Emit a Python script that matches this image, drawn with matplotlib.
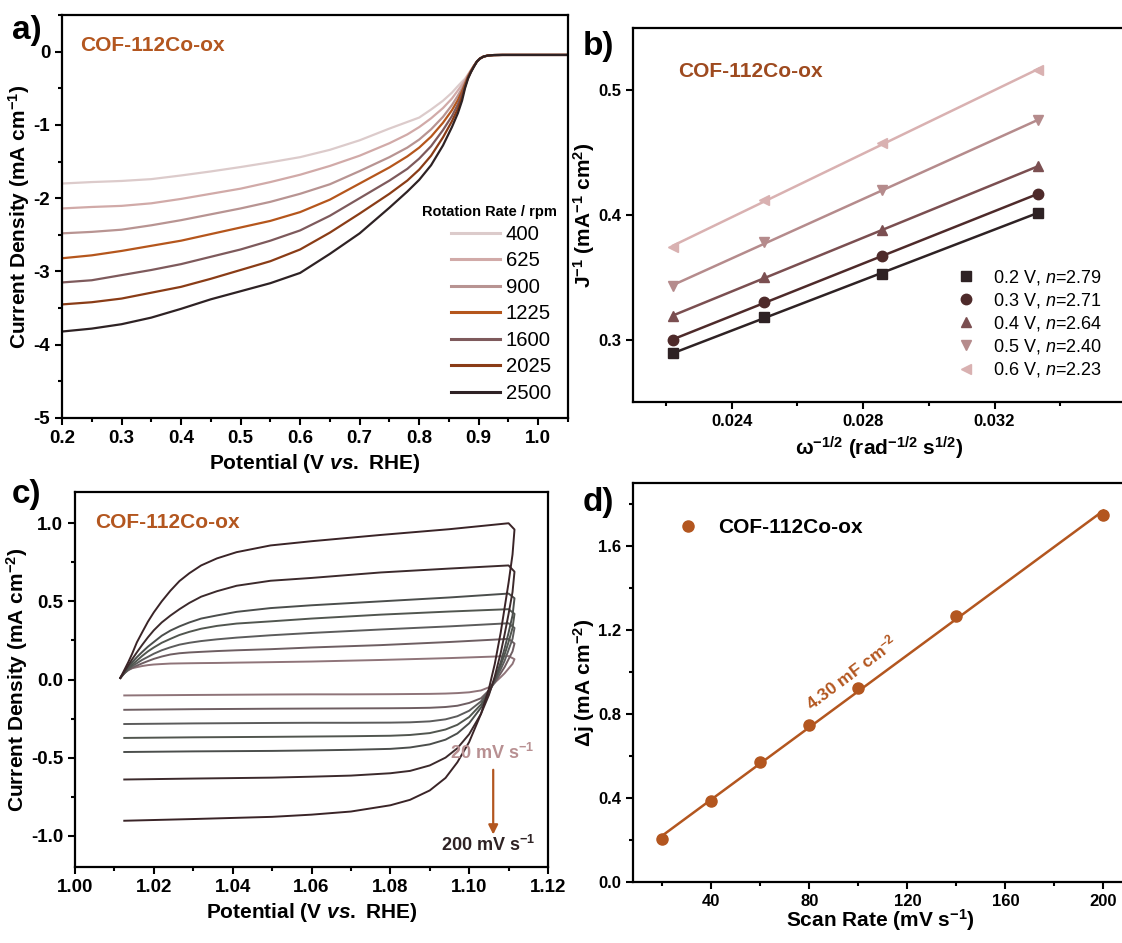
import numpy as np
import matplotlib
matplotlib.use("Agg")
import matplotlib.pyplot as plt
from matplotlib.ticker import MultipleLocator
from matplotlib.lines import Line2D

plt.rcParams["font.family"] = ["Liberation Sans", "DejaVu Sans"]
plt.rcParams["font.weight"] = "bold"
plt.rcParams["mathtext.fontset"] = "custom"
plt.rcParams["mathtext.rm"] = "Liberation Sans:bold"
plt.rcParams["mathtext.bf"] = "Liberation Sans:bold"
plt.rcParams["mathtext.it"] = "Liberation Sans:italic:bold"
plt.rcParams["mathtext.sf"] = "Liberation Sans:style=italic:weight=normal"

BROWN = "#b3561f"
SAMPLE = "COF-112Co-ox"

# ---- (a) LSV curves at different rotation rates ----
rpm = [400, 625, 900, 1225, 1600, 2025, 2500]
rpm_colors = ["#dccbcb", "#d1aaa8", "#b89492", "#b5561c", "#7e5a5c", "#8a3c16", "#2e2224"]
lsv_potential = [0.20, 0.25, 0.30, 0.35, 0.40, 0.45, 0.50, 0.55, 0.60, 0.65, 0.70, 0.75,
                 0.78, 0.80, 0.82, 0.84, 0.855, 0.865, 0.872, 0.877,
                 0.882, 0.887, 0.892, 0.897, 0.902, 0.908, 0.915, 0.925, 0.94, 1.05]
lsv_tail = [-0.135, -0.095, -0.068, -0.054, -0.047, -0.045, -0.045]
lsv_current = {
    400:  [-1.80, -1.78, -1.765, -1.74, -1.69, -1.635, -1.575, -1.51, -1.44, -1.34, -1.21, -1.05,
           -0.96, -0.90, -0.79, -0.67, -0.56, -0.47, -0.41, -0.37, -0.31, -0.25, -0.19],
    625:  [-2.14, -2.12, -2.105, -2.07, -2.01, -1.94, -1.87, -1.78, -1.68, -1.56, -1.42, -1.25,
           -1.13, -1.03, -0.91, -0.77, -0.64, -0.53, -0.45, -0.39, -0.32, -0.255, -0.19],
    900:  [-2.48, -2.46, -2.43, -2.37, -2.30, -2.22, -2.14, -2.05, -1.94, -1.81, -1.63, -1.44,
           -1.31, -1.20, -1.06, -0.89, -0.73, -0.60, -0.50, -0.42, -0.33, -0.26, -0.195],
    1225: [-2.82, -2.78, -2.72, -2.65, -2.58, -2.49, -2.40, -2.31, -2.19, -2.02, -1.80, -1.58,
           -1.43, -1.31, -1.16, -0.97, -0.80, -0.66, -0.54, -0.44, -0.34, -0.265, -0.195],
    1600: [-3.15, -3.12, -3.05, -2.98, -2.90, -2.80, -2.70, -2.58, -2.44, -2.24, -2.00, -1.76,
           -1.60, -1.46, -1.29, -1.07, -0.88, -0.72, -0.58, -0.46, -0.35, -0.27, -0.20],
    2025: [-3.45, -3.42, -3.37, -3.29, -3.21, -3.10, -2.98, -2.86, -2.70, -2.47, -2.21, -1.94,
           -1.76, -1.61, -1.42, -1.17, -0.95, -0.78, -0.62, -0.48, -0.36, -0.275, -0.20],
    2500: [-3.82, -3.78, -3.72, -3.63, -3.51, -3.38, -3.27, -3.16, -3.02, -2.76, -2.48, -2.13,
           -1.91, -1.75, -1.55, -1.28, -1.03, -0.84, -0.67, -0.50, -0.37, -0.28, -0.205],
}

# ---- (b) Koutecky-Levich data ----
kl_rpm = [2025, 1600, 1225, 900]
kl_labels = ["0.2 V, $\\mathsf{n}$=2.79", "0.3 V, $\\mathsf{n}$=2.71", "0.4 V, $\\mathsf{n}$=2.64",
             "0.5 V, $\\mathsf{n}$=2.40", "0.6 V, $\\mathsf{n}$=2.23"]
kl_markers = ["s", "o", "^", "v", "<"]
kl_colors = ["#2e2224", "#4e2a2a", "#7b4f51", "#b58b8c", "#d9b1b1"]
kl_inv_j = [
    [0.289, 0.318, 0.353, 0.402],
    [0.300, 0.330, 0.367, 0.417],
    [0.319, 0.350, 0.388, 0.439],
    [0.343, 0.378, 0.420, 0.476],
    [0.374, 0.412, 0.458, 0.516],
]

# ---- (c) CV curves in the non-faradaic window ----
scan_rates = [20, 40, 60, 80, 100, 140, 200]
cv_colors = ["#8f7479", "#6e5e62", "#5c5c5c", "#51564f", "#4b4e4c", "#3c2a2c", "#3a2427"]
anodic_v = [1.0115, 1.0125, 1.0135, 1.0145, 1.0157, 1.017, 1.0185, 1.020, 1.022, 1.0242,
            1.0265, 1.029, 1.032, 1.036, 1.041, 1.0496, 1.060, 1.0775, 1.095, 1.110]
anodic_j = {
    20:  [0.010, 0.040, 0.060, 0.072, 0.079, 0.086, 0.092, 0.096, 0.099, 0.102,
          0.103, 0.104, 0.105, 0.106, 0.108, 0.111, 0.115, 0.125, 0.137, 0.150],
    40:  [0.010, 0.040, 0.060, 0.075, 0.089, 0.103, 0.118, 0.132, 0.147, 0.160,
          0.168, 0.173, 0.177, 0.182, 0.187, 0.194, 0.205, 0.220, 0.240, 0.260],
    60:  [0.010, 0.040, 0.065, 0.085, 0.104, 0.125, 0.145, 0.165, 0.187, 0.206,
          0.223, 0.235, 0.246, 0.257, 0.268, 0.283, 0.298, 0.320, 0.340, 0.360],
    80:  [0.010, 0.040, 0.070, 0.095, 0.121, 0.150, 0.180, 0.205, 0.235, 0.260,
          0.285, 0.305, 0.325, 0.343, 0.358, 0.372, 0.390, 0.415, 0.435, 0.450],
    100: [0.010, 0.045, 0.080, 0.110, 0.143, 0.175, 0.210, 0.240, 0.280, 0.313,
          0.340, 0.365, 0.390, 0.410, 0.433, 0.457, 0.475, 0.500, 0.525, 0.550],
    140: [0.010, 0.050, 0.090, 0.130, 0.174, 0.220, 0.270, 0.315, 0.365, 0.409,
          0.450, 0.490, 0.530, 0.565, 0.600, 0.632, 0.650, 0.685, 0.710, 0.730],
    200: [0.010, 0.060, 0.110, 0.165, 0.238, 0.300, 0.370, 0.430, 0.500, 0.568,
          0.630, 0.680, 0.730, 0.775, 0.815, 0.858, 0.885, 0.925, 0.962, 1.000],
}
cathodic_v = [1.1115, 1.111, 1.110, 1.109, 1.108, 1.1065, 1.105, 1.103, 1.100, 1.097,
              1.094, 1.090, 1.085, 1.080, 1.070, 1.060, 1.050, 1.030, 1.0125]
cathodic_j = {
    20:  [0.130, 0.100, 0.070, 0.040, 0.015, -0.020, -0.050, -0.070, -0.082, -0.087,
          -0.090, -0.092, -0.093, -0.094, -0.095, -0.095, -0.096, -0.099, -0.102],
    40:  [0.230, 0.180, 0.130, 0.080, 0.040, -0.020, -0.070, -0.120, -0.150, -0.168,
          -0.176, -0.181, -0.183, -0.184, -0.185, -0.186, -0.187, -0.190, -0.194],
    60:  [0.330, 0.260, 0.190, 0.120, 0.065, -0.010, -0.070, -0.140, -0.200, -0.235,
          -0.255, -0.268, -0.274, -0.276, -0.277, -0.277, -0.278, -0.281, -0.285],
    80:  [0.420, 0.330, 0.240, 0.160, 0.090, 0.000, -0.080, -0.160, -0.240, -0.290,
          -0.320, -0.343, -0.355, -0.360, -0.363, -0.365, -0.367, -0.370, -0.374],
    100: [0.520, 0.410, 0.300, 0.200, 0.110, 0.000, -0.090, -0.180, -0.280, -0.345,
          -0.385, -0.415, -0.435, -0.444, -0.450, -0.454, -0.457, -0.460, -0.464],
    140: [0.690, 0.560, 0.420, 0.290, 0.170, 0.020, -0.100, -0.220, -0.350, -0.440,
          -0.500, -0.550, -0.585, -0.600, -0.615, -0.622, -0.628, -0.634, -0.640],
    200: [0.960, 0.800, 0.620, 0.460, 0.300, 0.100, -0.060, -0.220, -0.400, -0.530,
          -0.630, -0.710, -0.770, -0.805, -0.845, -0.865, -0.879, -0.893, -0.904],
}

# ---- (d) double-layer capacitance ----
dl_scan = [20, 40, 60, 80, 100, 140, 200]
dl_delta_j = [0.205, 0.386, 0.570, 0.748, 0.922, 1.266, 1.750]
cdl_label = "4.30 mF cm$^{-2}$"


W, H = 1122, 943
fig = plt.figure(figsize=(W / 100, H / 100), dpi=100)


def axes_px(left, top, right, bottom):
    return fig.add_axes([left / W, 1 - bottom / H, (right - left) / W, (bottom - top) / H])


def style(ax, tick_size=13):
    for s in ax.spines.values():
        s.set_linewidth(1.6)
    ax.tick_params(which="major", direction="out", length=5, width=1.5, labelsize=tick_size)
    ax.tick_params(which="minor", direction="out", length=3, width=1.5)
    for lab in ax.get_xticklabels() + ax.get_yticklabels():
        lab.set_fontweight("bold")


label_kw = dict(fontsize=15, fontweight="bold")

# ---------------- panel a ----------------
ax = axes_px(62, 15, 568, 418)
for r, c in zip(rpm, rpm_colors):
    ax.plot(lsv_potential, lsv_current[r] + lsv_tail, color=c, lw=1.6, label=str(r))
ax.set_xlim(0.2, 1.05)
ax.set_ylim(-5, 0.5)
ax.xaxis.set_minor_locator(MultipleLocator(0.05))
ax.yaxis.set_minor_locator(MultipleLocator(0.5))
ax.set_xticks(np.arange(0.2, 1.01, 0.1))
ax.set_xticklabels([f"{v:.1f}" for v in np.arange(0.2, 1.01, 0.1)])
ax.set_yticks(range(-5, 1))
ax.set_yticklabels([str(v) for v in range(-5, 1)])
style(ax, 13.5)
ax.set_xlabel("Potential (V $vs.$ RHE)", labelpad=4, **label_kw)
ax.set_ylabel("Current Density (mA cm$^{-1}$)", labelpad=1, **label_kw)
ax.text(0.036, 0.925, SAMPLE, transform=ax.transAxes, color=BROWN, fontsize=15,
        fontweight="bold", va="center")
ax.text(0.711, 0.511, "Rotation Rate / rpm", transform=ax.transAxes, fontsize=10.5,
        fontweight="bold", va="center", ha="left")
leg = ax.legend(loc="upper left", bbox_to_anchor=(0.769, 0.479), frameon=False,
                handlelength=2.4, handletextpad=0.3, labelspacing=0.37,
                borderaxespad=0, borderpad=0, prop={"size": 14.6, "weight": "normal"})
for line in leg.get_lines():
    line.set_linewidth(2.2)
fig.text(12 / W, 1 - 31 / H, "a)", fontsize=24, fontweight="bold", va="center")

# ---------------- panel b ----------------
ax = axes_px(633, 28, 1126, 402)
kl_x = np.array(kl_rpm, dtype=float) ** -0.5
for ys, m, c, lab in zip(kl_inv_j, kl_markers, kl_colors, kl_labels):
    slope, icpt = np.polyfit(kl_x, ys, 1)
    ax.plot(kl_x, slope * kl_x + icpt, color=c, lw=1.8)
    ax.plot(kl_x, ys, ls="none", marker=m, color=c, ms=7.5, label=lab)
ax.set_xlim(0.021, 0.036)
ax.set_ylim(0.25, 0.55)
ax.set_xticks([0.024, 0.028, 0.032])
ax.set_xticklabels(["0.024", "0.028", "0.032"])
ax.xaxis.set_minor_locator(MultipleLocator(0.002))
ax.set_yticks([0.3, 0.4, 0.5])
ax.set_yticklabels(["0.3", "0.4", "0.5"])
style(ax, 12)
ax.set_xlabel("\u03c9$^{-1/2}$ (rad$^{-1/2}$ s$^{1/2}$)", labelpad=4, **label_kw)
ax.set_ylabel("J$^{-1}$ (mA$^{-1}$ cm$^{2}$)", labelpad=1, **label_kw)
ax.text(0.092, 0.885, SAMPLE, transform=ax.transAxes, color="#9e4a1f", fontsize=15,
        fontweight="bold", va="center")
ax.legend(loc="lower right", bbox_to_anchor=(0.967, 0.041), frameon=False,
          handletextpad=0.9, labelspacing=0.23, borderaxespad=0, handlelength=1.2,
          prop={"size": 13, "weight": "normal"})
fig.text(583 / W, 1 - 46 / H, "b)", fontsize=24, fontweight="bold", va="center")

# ---------------- panel c ----------------
ax = axes_px(75, 492, 548, 867)
for sr, c in zip(scan_rates, cv_colors):
    v = anodic_v + cathodic_v
    j = anodic_j[sr] + cathodic_j[sr]
    ax.plot(v, j, color=c, lw=1.4)
ax.set_xlim(1.0, 1.12)
ax.set_ylim(-1.2, 1.2)
ax.set_xticks(np.arange(1.0, 1.121, 0.02))
ax.set_xticklabels([f"{v:.2f}" for v in np.arange(1.0, 1.121, 0.02)])
ax.xaxis.set_minor_locator(MultipleLocator(0.01))
ax.set_yticks([-1.0, -0.5, 0.0, 0.5, 1.0])
ax.set_yticklabels(["-1.0", "-0.5", "0.0", "0.5", "1.0"])
ax.yaxis.set_minor_locator(MultipleLocator(0.25))
style(ax, 13.5)
ax.set_xlabel("Potential (V $vs.$ RHE)", labelpad=4, **label_kw)
ax.set_ylabel("Current Density (mA cm$^{-2}$)", labelpad=1, **label_kw)
ax.text(0.042, 0.92, SAMPLE, transform=ax.transAxes, color=BROWN, fontsize=15,
        fontweight="bold", va="center")
ax.text(1.1058, -0.47, "20 mV s$^{-1}$", color="#b89092", fontsize=13, fontweight="bold",
        ha="center", va="center")
ax.annotate("", xy=(1.1061, -1.01), xytext=(1.1061, -0.56),
            arrowprops=dict(arrowstyle="-|>", color=BROWN, lw=1.6, mutation_scale=14))
ax.text(1.1048, -1.06, "200 mV s$^{-1}$", color="#2e2224", fontsize=13, fontweight="bold",
        ha="center", va="center")
fig.text(12 / W, 1 - 494 / H, "c)", fontsize=24, fontweight="bold", va="center")

# ---------------- panel d ----------------
ax = axes_px(633, 483, 1128, 882)
sr = np.array(dl_scan, dtype=float)
slope, icpt = np.polyfit(sr, dl_delta_j, 1)
ax.plot(sr, slope * sr + icpt, color=BROWN, lw=1.8)
ax.plot(sr, dl_delta_j, ls="none", marker="o", color=BROWN, ms=8)
ax.set_xlim(8, 210)
ax.set_ylim(0, 1.9)
ax.set_xticks([40, 80, 120, 160, 200])
ax.set_xticklabels(["40", "80", "120", "160", "200"])
ax.xaxis.set_minor_locator(MultipleLocator(20))
ax.set_yticks([0.0, 0.4, 0.8, 1.2, 1.6])
ax.set_yticklabels(["0.0", "0.4", "0.8", "1.2", "1.6"])
ax.yaxis.set_minor_locator(MultipleLocator(0.2))
style(ax, 12)
ax.set_xlabel("Scan Rate (mV s$^{-1}$)", labelpad=-1, **label_kw)
ax.set_ylabel("\u0394j (mA cm$^{-2}$)", labelpad=1, **label_kw)
ax.text(97, 1.0, cdl_label, color=BROWN, fontsize=12.5, fontweight="bold",
        rotation=37, ha="center", va="center", rotation_mode="anchor")
handle = Line2D([], [], ls="none", marker="o", color=BROWN, ms=8)
ax.legend([handle], [SAMPLE], loc="upper left", bbox_to_anchor=(0.052, 0.932), frameon=False,
          handletextpad=0.45, borderaxespad=0, prop={"size": 15, "weight": "bold"})
fig.text(583 / W, 1 - 502 / H, "d)", fontsize=24, fontweight="bold", va="center")

fig.savefig("out.png", dpi=100)
